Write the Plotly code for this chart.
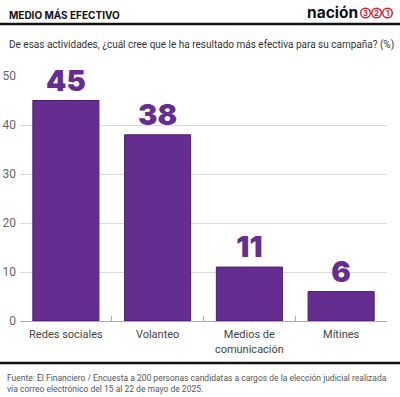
import plotly.graph_objects as go

categories = ["Redes sociales", "Volanteo", "Medios de<br>comunicación", "Mítines"]
values = [45, 38, 11, 6]
y_ticks = [0, 10, 20, 30, 40, 50]

PURPLE = "#662d91"
RED = "#d6202b"
FONT = "Roboto"

# plot area in pixels (for placing decorations)
L, R, T, B, W, H = 20, 13, 76, 76, 400, 397
PW, PH = W - L - R, H - T - B


def px(x):
    return (x - L) / PW


def py(y):
    return (H - B - y) / PH


fig = go.Figure()
fig.add_trace(go.Bar(
    x=categories, y=values,
    marker=dict(color=PURPLE, line=dict(color="#4a1d6e", width=1)),
    width=0.72,
    text=[str(v) for v in values],
    textposition="outside",
    textfont=dict(family="Inter", size=29, color=PURPLE, weight=900),
    cliponaxis=False,
    hoverinfo="skip",
))

fig.update_layout(
    width=W, height=H,
    margin=dict(l=L, r=R, t=T, b=B, autoexpand=False),
    paper_bgcolor="white", plot_bgcolor="white",
    showlegend=False,
    font=dict(family=FONT, color="#444"),
    xaxis=dict(
        type="category",
        tickson="boundaries",
        ticks="inside", ticklen=5, tickcolor="#aaa",
        showline=True, linecolor="#aaa", linewidth=1,
        showgrid=False, tickangle=0, automargin=False,
        ticklabelstandoff=3,
        tickfont=dict(family=FONT, size=11, color="#444"),
        fixedrange=True,
    ),
    yaxis=dict(
        range=[0, 50],
        tickvals=y_ticks,
        showgrid=True, gridcolor="#d9d9d9", gridwidth=1,
        zeroline=False, automargin=False,
        ticks="", ticklabelstandoff=3,
        tickfont=dict(family=FONT, size=12, color="#666"),
        fixedrange=True,
    ),
)

# header title
fig.add_annotation(xref="paper", yref="paper", x=px(7), xanchor="left",
                   y=py(14), yanchor="middle",
                   text="<b>MEDIO MÁS EFECTIVO</b>", showarrow=False,
                   font=dict(family="Inter", size=10, color="#111", weight=800))
# logo
fig.add_annotation(xref="paper", yref="paper", x=px(360), xanchor="right",
                   y=py(12), yanchor="middle",
                   text="<b>nación</b>", showarrow=False,
                   font=dict(family="Inter", size=15.5, color="#111", weight=800))
for cx, d in zip([365.5, 376.5, 387.5], ["3", "2", "1"]):
    fig.add_shape(type="circle", xref="paper", yref="paper",
                  x0=px(cx - 4.8), x1=px(cx + 4.8), y0=py(13 + 4.8), y1=py(13 - 4.8),
                  line=dict(color=RED, width=1.4), fillcolor="white")
    fig.add_annotation(xref="paper", yref="paper", x=px(cx), xanchor="center",
                       y=py(13), yanchor="middle", text=f"<b>{d}</b>", showarrow=False,
                       font=dict(family="Inter", size=7.5, color=RED, weight=800))

fig.add_annotation(xref="paper", yref="paper", x=px(7), xanchor="left",
                   y=py(45), yanchor="middle",
                   text="De esas actividades, ¿cuál cree que le ha resultado más efectiva para su campaña? (%)",
                   showarrow=False,
                   font=dict(family=FONT, size=10, color="#333"))
# footer
fig.add_annotation(xref="paper", yref="paper", x=px(5), xanchor="left",
                   y=py(371), yanchor="top", align="left",
                   text="Fuente: El Financiero / Encuesta a 200 personas candidatas a cargos de la elección judicial realizada<br>vía correo electrónico del 15 al 22 de mayo de 2025.",
                   showarrow=False,
                   font=dict(family=FONT, size=8.5, color="#555"))

# rules
fig.add_shape(type="line", xref="paper", yref="paper", x0=px(0), x1=px(W),
              y0=py(24), y1=py(24), line=dict(color="#111", width=2.5))
fig.add_shape(type="line", xref="paper", yref="paper", x0=px(0), x1=px(W),
              y0=py(363), y1=py(363), line=dict(color="#111", width=2.5))

fig.write_html("out.html", config={"displayModeBar": False},
               post_script="document.body.style.margin='0';document.body.style.overflow='hidden';")
